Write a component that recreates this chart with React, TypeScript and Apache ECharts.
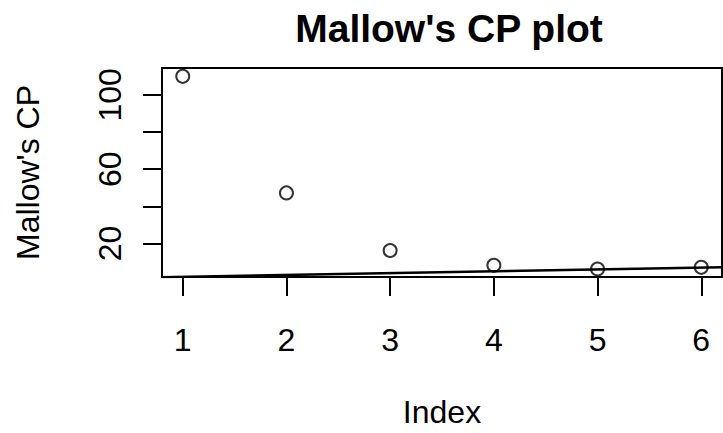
import React, { useEffect, useRef } from "react";
import * as echarts from "echarts";

const indexValues = [1, 2, 3, 4, 5, 6];
const cpValues = [110.0, 47.2, 16.2, 8.2, 6.2, 7.1];
const refLineX = [0.8, 6.2];
const refLineY = [1.8, 7.2];
const xTicks = [1, 2, 3, 4, 5, 6];
const yTicks = [20, 40, 60, 80, 100];
const yTickLabels = [20, 60, 100];

const FONT = "'Liberation Sans', Arial, Helvetica, sans-serif";

export default function App() {
  const ref = useRef<HTMLDivElement>(null);
  useEffect(() => {
    if (!ref.current) return;
    const chart = echarts.init(ref.current, null, { renderer: "svg" });
    chart.setOption({
      animation: false,
      backgroundColor: "#ffffff",
      title: {
        text: "Mallow's CP plot",
        left: 444,
        top: 4,
        textAlign: "center",
        textStyle: { fontFamily: FONT, fontSize: 39, fontWeight: "bold", color: "#000" },
      },
      grid: {
        left: 162,
        top: 68,
        right: 1,
        bottom: 148,
        show: true,
        borderColor: "#000",
        borderWidth: 2,
        backgroundColor: "transparent",
      },
      xAxis: {
        type: "value",
        min: 0.8,
        max: 6.2,
        name: "Index",
        nameLocation: "middle",
        nameGap: 119,
        nameTextStyle: { fontFamily: FONT, fontSize: 32, color: "#000" },
        axisLine: { show: false },
        splitLine: { show: false },
        axisTick: {
          show: true,
          length: 19,
          customValues: xTicks,
          lineStyle: { color: "#000", width: 2 },
        },
        axisLabel: {
          customValues: xTicks,
          margin: 47,
          fontFamily: FONT,
          fontSize: 32,
          color: "#000",
        },
      },
      yAxis: {
        type: "value",
        min: 1.9,
        max: 114.5,
        name: "Mallow's CP",
        nameLocation: "middle",
        nameRotate: 90,
        nameGap: 118,
        nameTextStyle: { fontFamily: FONT, fontSize: 32, color: "#000" },
        axisLine: { show: false },
        splitLine: { show: false },
        axisTick: {
          show: true,
          length: 19,
          customValues: yTicks,
          lineStyle: { color: "#000", width: 2 },
        },
        axisLabel: {
          customValues: yTickLabels,
          rotate: 90,
          margin: 36,
          fontFamily: FONT,
          fontSize: 32,
          color: "#000",
        },
      },
      series: [
        {
          type: "line",
          data: refLineX.map((x, i) => [x, refLineY[i]]),
          symbol: "none",
          clip: true,
          lineStyle: { color: "#000", width: 2.5 },
          z: 2,
        },
        {
          type: "scatter",
          data: indexValues.map((x, i) => [x, cpValues[i]]),
          symbol: "circle",
          symbolSize: 13,
          itemStyle: { color: "transparent", borderColor: "#000", borderWidth: 2 },
          z: 3,
        },
      ],
    });
    return () => chart.dispose();
  }, []);
  return (
    <div
      ref={ref}
      style={{ position: "fixed", left: 0, top: 0, width: 723, height: 433, background: "#fff" }}
    />
  );
}
